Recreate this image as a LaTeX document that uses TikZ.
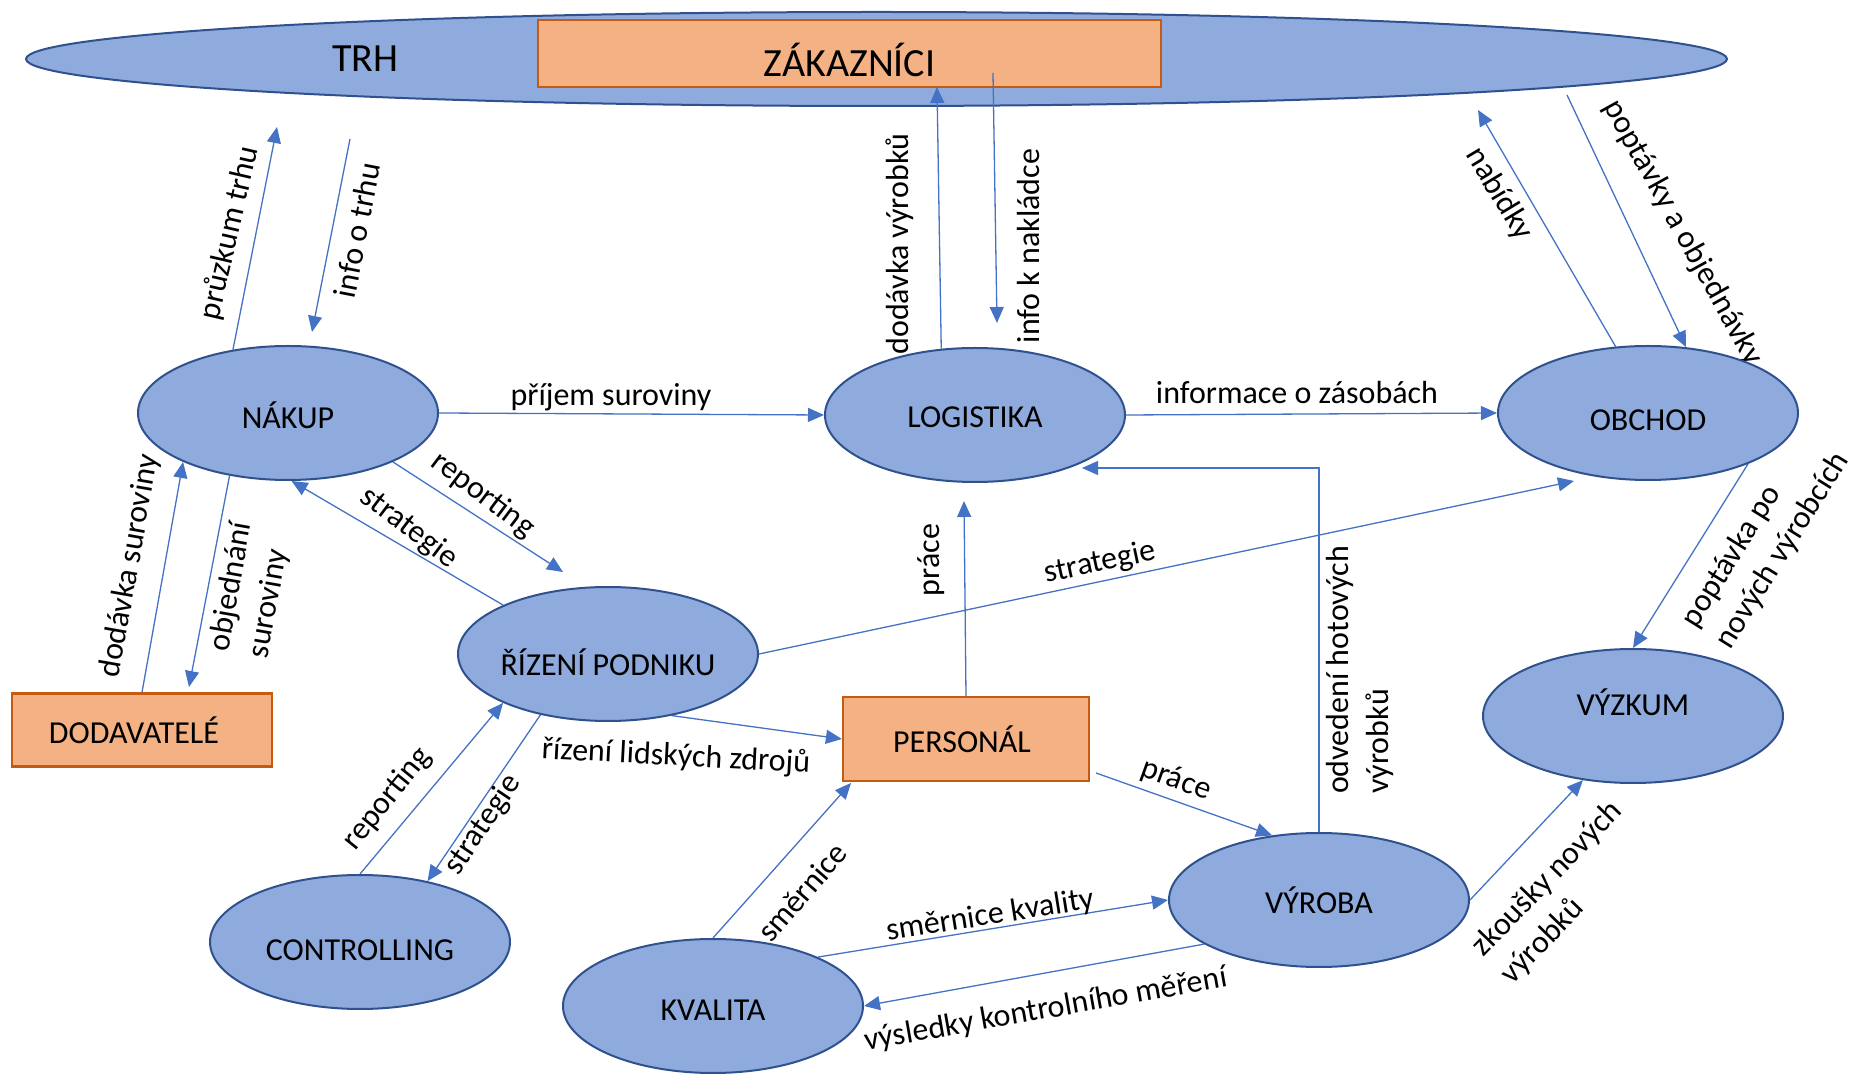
\documentclass[tikz,border=0pt]{standalone}
\usepackage{fontspec}
\setmainfont{Carlito}
\usetikzlibrary{shapes.geometric,arrows.meta}
\definecolor{ellfill}{HTML}{8FAADC}
\definecolor{ellborder}{HTML}{2F528F}
\definecolor{boxfill}{HTML}{F4B183}
\definecolor{boxborder}{HTML}{C55A11}
\definecolor{arrowblue}{HTML}{4472C4}
\pgfdeclarelayer{bg}
\pgfsetlayers{bg,main}

\begin{document}
\begin{tikzpicture}[x=0.5pt,y=-0.5pt,
  every node/.style={font=\fontsize{16}{20}\selectfont, text=black},
  bubble/.style={ellipse, draw=ellborder, fill=ellfill, line width=1pt,
    minimum width=150pt, minimum height=67pt, inner sep=0pt},
  box/.style={rectangle, draw=boxborder, fill=boxfill, line width=1.1pt, inner sep=0pt},
  flow/.style={draw=arrowblue, line width=0.65pt, -{Triangle[length=8pt,width=7pt]}},
  lbl/.style={inner sep=0pt},
  big/.style={font=\fontsize{20}{24}\selectfont},
]
\useasboundingbox (0,0) rectangle (1849,1074);

% departments
\node[bubble, label={[yshift=-1pt]center:NÁKUP}] (nakup) at (288,413) {};
\node[bubble, label={[yshift=-1pt]center:LOGISTIKA}] (log) at (975,415) {};
\node[bubble, label={[yshift=-3.5pt]center:OBCHOD}] (obchod) at (1648,413) {};
\node[bubble, label={[yshift=-4pt]center:ŘÍZENÍ PODNIKU}] (rizeni) at (608,654) {};
\node[bubble, label={[yshift=7pt]center:VÝZKUM}] (vyzkum) at (1633,716) {};
\node[bubble, label={[yshift=0pt]center:VÝROBA}] (vyroba) at (1319,900) {};
\node[bubble, label={[yshift=-4pt]center:CONTROLLING}] (controlling) at (360,942) {};
\node[bubble, label={[yshift=-2pt]center:KVALITA}] (kvalita) at (713,1006) {};

% external partners
\node[box, minimum width=130pt, minimum height=36.5pt,
  label={[xshift=-4pt]center:DODAVATELÉ}] (dod) at (142,730) {};
\node[box, minimum width=123pt, minimum height=42pt,
  label={[xshift=-2pt]center:PERSONÁL}] (pers) at (966,739) {};

\begin{pgfonlayer}{bg}
% market with customers
\node[bubble, minimum width=850.5pt, minimum height=47pt,
  label={[big, xshift=-255.5pt]center:TRH}] (trh) at (876.5,59) {};
\node[box, minimum width=311.5pt, minimum height=33.5pt, line width=1.4pt,
  label={[big, yshift=-3pt]center:ZÁKAZNÍCI}] (zak) at (849.5,53.5) {};

% free ends of connectors
\coordinate (c1) at (277,127);
\coordinate (c2a) at (350,139);
\coordinate (c2b) at (312,332);
\coordinate (c3) at (937,87);
\coordinate (c4a) at (993,73);
\coordinate (c4b) at (997,323);
\coordinate (c5) at (1478,110);
\coordinate (c6) at (1567,95);
\coordinate (c9) at (563,572);
\coordinate (c11) at (1574,481);
\coordinate (c13) at (189,687);
\coordinate (c14) at (964,501);
\coordinate (c15) at (1082,468);
\coordinate (c16) at (1096,773);
\coordinate (c20) at (851,783);

% flows
\draw[flow] (nakup.131) -- (c1);
\draw[flow] (c2a) -- (c2b);
\draw[flow] (log.117) -- (c3);
\draw[flow] (c4a) -- (c4b);
\draw[flow] (obchod.116) -- (c5);
\draw[flow] (c6) -- (obchod.60);
\draw[flow] (nakup.east) -- (log.west);
\draw[flow] (log.east) -- (obchod.west);
\draw[flow] (nakup.-25) -- (c9);
\draw[flow] (rizeni.155) -- (nakup.-87);
\draw[flow] (rizeni.east) -- (c11);
\draw[flow] (dod.north) -- (nakup.205);
\draw[flow] (nakup.-133) -- (c13);
\draw[flow] (pers.north) -- (c14);
\draw[flow] (vyroba.north) |- (c15);
\draw[flow] (c16) -- (vyroba.126);
\draw[flow] (rizeni.-44) -- (pers.west);
\draw[flow] (controlling.north) -- (rizeni.205);
\draw[flow] (rizeni.-138) -- (controlling.42);
\draw[flow] (kvalita.north) -- (c20);
\draw[flow] (kvalita.25) -- (vyroba.west);
\draw[flow] (vyroba.-159) -- (kvalita.east);
\draw[flow] (obchod.-27) -- (vyzkum.north);
\draw[flow] (vyroba.east) -- (vyzkum.-128);

% flow labels
\node[lbl, rotate=77] (t1) at (230,233) {průzkum trhu};
\node[lbl, rotate=79] (t2) at (357,230) {info o trhu};
\node[lbl, rotate=90] (t3) at (900,244) {dodávka výrobků};
\node[lbl, rotate=90] (t4) at (1028,246) {info k nakládce};
\node[lbl, rotate=-59] (t5) at (1499,194) {nabídky};
\node[lbl, rotate=-61] (t6) at (1683,233) {poptávky a objednávky};
\node[lbl] (t7) at (611,397) {příjem suroviny};
\node[lbl] (t8) at (1297,393) {informace o zásobách};
\node[lbl, rotate=-37] (t9) at (483,495) {reporting};
\node[lbl, rotate=-37] (t10) at (409,528) {strategie};
\node[lbl, rotate=12] (t11) at (1100,563) {strategie};
\node[lbl, rotate=80] (t12) at (130,566) {dodávka suroviny};
\node[lbl, rotate=80, align=left] (t13) at (251,590) {objednání\\suroviny};
\node[lbl, rotate=90] (t14) at (931,560) {práce};
\node[lbl, rotate=90, align=left] (t15) at (1360,670) {odvedení hotových\\výrobků};
\node[lbl, rotate=-20] (t16) at (1176,780) {práce};
\node[lbl, rotate=-3] (t17) at (676,757) {řízení lidských zdrojů};
\node[lbl, rotate=51] (t18) at (387,799) {reporting};
\node[lbl, rotate=56] (t19) at (483,825) {strategie};
\node[lbl, rotate=49] (t20) at (802,892) {směrnice};
\node[lbl, rotate=9] (t21) at (990,916) {směrnice kvality};
\node[lbl, rotate=10] (t22) at (1046,1010) {výsledky kontrolního měření};
\node[lbl, rotate=58, align=left] (t23) at (1766,540) {poptávka po\\nových výrobcích};
\node[lbl, rotate=46, align=left] (t24) at (1562,893) {zkoušky nových\\výrobků};
\end{pgfonlayer}
\end{tikzpicture}
\end{document}
